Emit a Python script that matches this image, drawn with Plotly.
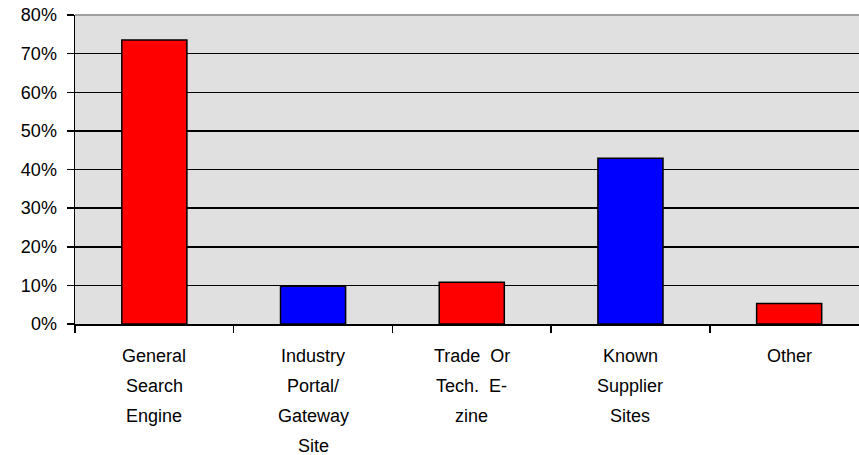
import plotly.graph_objects as go

categories = ["General Search Engine", "Industry Portal/ Gateway Site",
              "Trade  Or Tech.  E-zine", "Known Supplier Sites", "Other"]
label_lines = [["General", "Search", "Engine"],
               ["Industry", "Portal/", "Gateway", "Site"],
               ["Trade  Or", "Tech.  E-", "zine"],
               ["Known", "Supplier", "Sites"],
               ["Other"]]
values = [0.735, 0.098, 0.108, 0.429, 0.053]
colors = ["#FF0000", "#0000FF", "#FF0000", "#0000FF", "#FF0000"]
y_ticks = [0, 0.1, 0.2, 0.3, 0.4, 0.5, 0.6, 0.7, 0.8]
y_tick_text = ["0%", "10%", "20%", "30%", "40%", "50%", "60%", "70%", "80%"]

FONT = "Liberation Sans, Arial, sans-serif"

fig = go.Figure(go.Bar(
    x=categories, y=values,
    marker=dict(color=colors, line=dict(color="#000000", width=1.5)),
    width=0.41,
))

annotations = []
for cat, lines in zip(categories, label_lines):
    for i, ln in enumerate(lines):
        annotations.append(dict(
            x=cat, y=0, xref="x", yref="y", text=ln, showarrow=False,
            xanchor="center", yanchor="top", yshift=-20 - 30 * i,
            font=dict(family=FONT, size=18, color="#000000"),
        ))

fig.update_layout(
    width=859, height=455,
    margin=dict(l=75, r=0, t=15, b=131),
    paper_bgcolor="#FFFFFF", plot_bgcolor="#E0E0E0",
    showlegend=False,
    annotations=annotations,
    shapes=[dict(type="line", xref="paper", yref="paper", x0=0, x1=1, y0=1, y1=1,
                 line=dict(color="#A0A0A0", width=2))],
    xaxis=dict(
        type="category", range=[-0.5, 4.44], tickson="boundaries",
        showticklabels=False, ticks="outside", ticklen=7, tickwidth=1.5,
        tickcolor="#000000", showgrid=False, showline=True,
        linecolor="#000000", linewidth=1.5, zeroline=False,
    ),
    yaxis=dict(
        range=[0, 0.8], tickvals=y_ticks, ticktext=y_tick_text,
        ticks="outside", ticklen=7, tickwidth=1.5, tickcolor="#000000",
        showgrid=True, gridcolor="#000000", gridwidth=1.5,
        showline=True, linecolor="#000000", linewidth=1.5, zeroline=False,
        tickfont=dict(family=FONT, size=18, color="#000000"),
        ticklabelstandoff=6, ticklabeloverflow="allow",
    ),
)

fig.write_html(
    "out.html",
    config={"displayModeBar": False, "staticPlot": True},
    post_script="document.body.style.margin='0';document.body.style.overflow='hidden';",
)
